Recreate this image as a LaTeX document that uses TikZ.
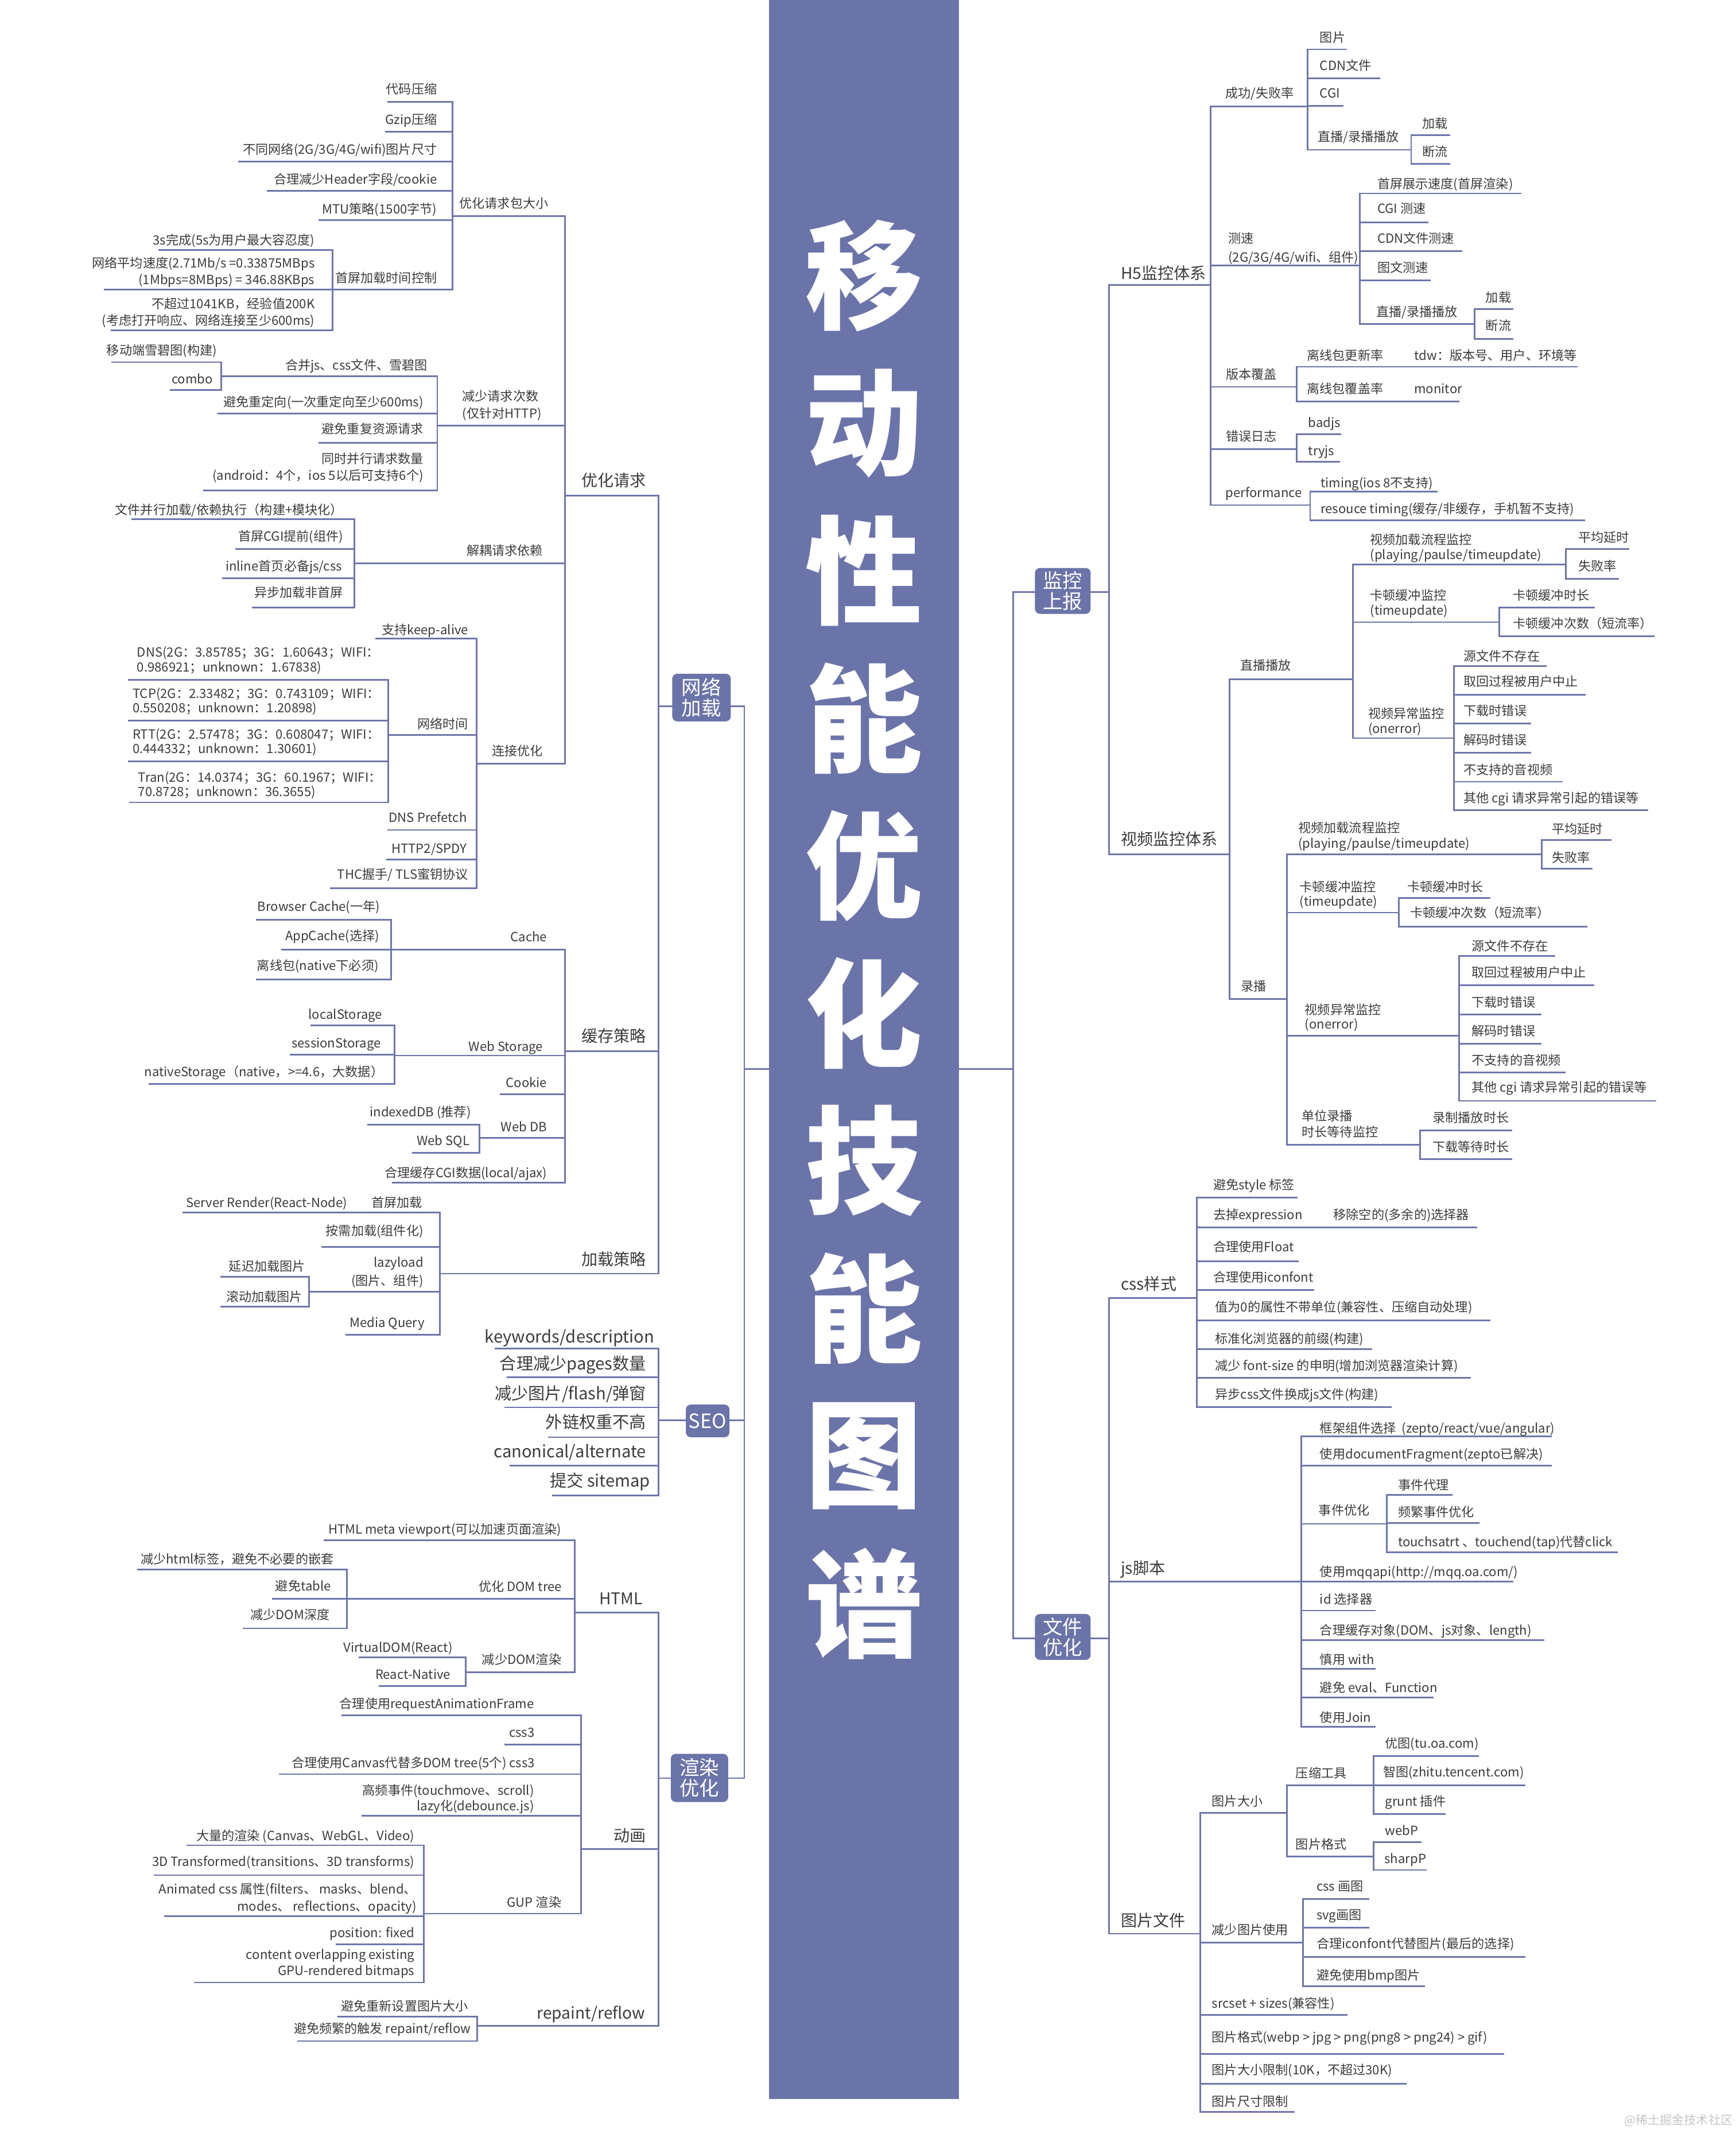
\documentclass[tikz,border=0pt]{standalone}
\usepackage{fontspec}
\setmainfont{Noto Sans CJK SC}
\definecolor{barC}{HTML}{6B74A9}
\definecolor{lineC}{HTML}{6E76AA}
\definecolor{txtC}{HTML}{3C3C3C}
\tikzset{
  ln/.style={draw=lineC, line width=0.8pt, line cap=rect},
  sm/.style={font=\fontsize{6.3}{8.1}\selectfont, text=txtC, inner sep=0pt, yshift=-0.170cm, execute at end node=\strut},
  md/.style={font=\fontsize{8}{10}\selectfont, text=txtC, inner sep=0pt, yshift=-0.213cm, execute at end node=\strut},
  lg/.style={font=\fontsize{8.3}{10.4}\selectfont, text=txtC, inner sep=0pt, yshift=-0.221cm, execute at end node=\strut},
  cat/.style={fill=barC, rounded corners=2.5pt, text=white, font=\fontsize{9.8}{10.2}\selectfont, align=center, inner sep=0pt},
  ttl/.style={text=white, font=\fontsize{58}{60}\selectfont\bfseries, inner sep=0pt}
}
% left node: name, style, xL, xR, y(line), text x (right edge), text y (centre of last line), text
\newcommand{\mmL}[8]{%
  \coordinate (#1-l) at (#3,#5);
  \coordinate (#1-r) at (#4,#5);
  \draw[ln] (#1-l) -- (#1-r);
  \node[anchor=south east, align=right, #2] (#1) at (#6,#7) {#8};
}
% right node: name, style, xL, xR, y(line), text x (left edge), text y, text
\newcommand{\mmR}[8]{%
  \coordinate (#1-l) at (#3,#5);
  \coordinate (#1-r) at (#4,#5);
  \draw[ln] (#1-l) -- (#1-r);
  \node[anchor=south west, align=left, #2] (#1) at (#6,#7) {#8};
}
\begin{document}
\begin{tikzpicture}[x=0.02366cm, y=-0.02366cm]
\useasboundingbox (0,0) rectangle (1278,1568);
\fill[white] (0,0) rectangle (1278,1568);

% central bar
\fill[barC] (566,0) rectangle (706,1545);
\foreach \c [count=\i from 0] in {移,动,性,能,优,化,技,能,图,谱}
  \node[ttl] (t\i) at (636,{203+\i*108.6}) {\c};

% ================= LEFT =================
\coordinate (barL) at (566,787);
\coordinate (LTm) at (548,787);
\coordinate (wljz-in) at (485,520);  \coordinate (wljz-out) at (548,520);
\coordinate (seo-in) at (485,1045.7); \coordinate (seo-out) at (548,1045.7);
\coordinate (xryh-in) at (485,1309); \coordinate (xryh-out) at (548,1309);
\draw[ln] (wljz-in) -- (wljz-out);
\draw[ln] (seo-in) -- (seo-out);
\draw[ln] (xryh-in) -- (xryh-out);
\draw[ln] (wljz-out) -- (xryh-out);
\draw[ln] (LTm) -- (barL);

% 网络加载
\mmL{yhqq}{md}{416}{485}{365}{476}{354}{优化请求}
\mmL{hccl}{md}{416}{485}{774}{476}{763}{缓存策略}
\mmL{jzcl}{md}{324}{485}{937.6}{476}{927}{加载策略}
\draw[ln] (yhqq-r) -- (jzcl-r);

% 优化请求
\mmL{bdx}{sm}{333}{416}{159}{404}{150}{优化请求包大小}
\mmL{jscs}{sm,align=left,font=\fontsize{6.3}{8.7}\selectfont}{322}{416}{313.4}{399}{305}{减少请求次数\\(仅针对HTTP)}
\mmL{jcyl}{sm}{261}{416}{414.7}{400}{405.7}{解耦请求依赖}
\mmL{ljyh}{sm}{351}{416}{562}{400}{553}{连接优化}
\draw[ln] (bdx-r) -- (ljyh-r);

\mmL{dmys}{sm}{286}{333}{75}{322}{66}{代码压缩}
\mmL{gzip}{sm}{284}{333}{97}{322}{88}{Gzip压缩}
\mmL{btwl}{sm}{176}{333}{119}{322}{110}{不同网络(2G/3G/4G/wifi)图片尺寸}
\mmL{header}{sm}{197}{333}{140.5}{322}{132}{合理减少Header字段/cookie}
\mmL{mtu}{sm}{235}{333}{162}{322}{154}{MTU策略(1500字节)}
\mmL{scjz}{sm}{245}{333}{213}{322}{205}{首屏加载时间控制}
\draw[ln] (dmys-r) -- (scjz-r);

\mmL{sss}{sm}{117}{245}{184}{232}{177}{3s完成(5s为用户最大容忍度)}
\mmL{pjsd}{sm}{77}{245}{213}{232}{206}{网络平均速度(2.71Mb/s =0.33875MBps\\(1Mbps=8MBps) = 346.88KBps}
\mmL{bcg}{sm}{82}{245}{243}{232}{236}{不超过1041KB，经验值200K\\(考虑打开响应、网络连接至少600ms)}
\draw[ln] (sss-r) -- (bcg-r);

\mmL{hbjs}{sm}{163}{322}{277}{315}{269}{合并js、css文件、雪碧图}
\mmL{cdx}{sm}{160.6}{322}{304.4}{312}{296}{避免重定向(一次重定向至少600ms)}
\mmL{cfzy}{sm}{235}{322}{326}{312}{316}{避免重复资源请求}
\mmL{bxqq}{sm}{150}{322}{361}{312}{350}{同时并行请求数量\\(android：4个，ios 5以后可支持6个)}
\draw[ln] (hbjs-r) -- (bxqq-r);

\mmL{xbt}{sm}{82.7}{163}{266.6}{160}{258}{移动端雪碧图(构建)}
\mmL{combo}{sm}{125.6}{163}{287}{157}{279}{combo}
\draw[ln] (xbt-r) -- (combo-r);

\mmL{wjbx}{sm}{97.5}{261}{382}{253}{375.5}{文件并行加载/依赖执行（构建+模块化）}
\mmL{cgi}{sm}{173.7}{261}{404}{253}{395}{首屏CGI提前(组件)}
\mmL{inline}{sm}{164}{261}{425.7}{252}{416.8}{inline首页必备js/css}
\mmL{ybjz}{sm}{186}{261}{447.4}{253}{436.5}{异步加载非首屏}
\draw[ln] (wjbx-r) -- (ybjz-r);

\mmL{keep}{sm}{277}{351}{470}{345}{464}{支持keep-alive}
\mmL{wlsj}{sm}{286}{351}{541}{345}{533}{网络时间}
\mmL{dnsp}{sm}{286}{351}{611}{344}{602}{DNS Prefetch}
\mmL{http}{sm}{285}{351}{632.7}{344}{624.7}{HTTP2/SPDY}
\mmL{thc}{sm}{243.5}{351}{654}{345}{644}{THC握手/ TLS蜜钥协议}
\draw[ln] (keep-r) -- (thc-r);

\mmL{dns}{sm,anchor=south west,align=left,font=\fontsize{6.3}{7.2}\selectfont}{94.8}{286}{500.6}{100.6}{490.7}{DNS(2G：3.85785；3G：1.60643；WIFI：\\0.986921；unknown：1.67838)}
\mmL{tcp}{sm,anchor=south west,align=left,font=\fontsize{6.3}{7.2}\selectfont}{94.8}{286}{530.4}{97.4}{521}{TCP(2G：2.33482；3G：0.743109；WIFI：\\0.550208；unknown：1.20898)}
\mmL{rtt}{sm,anchor=south west,align=left,font=\fontsize{6.3}{7.2}\selectfont}{94.8}{286}{560.5}{97.4}{551}{RTT(2G：2.57478；3G：0.608047；WIFI：\\0.444332；unknown：1.30601)}
\mmL{tran}{sm,anchor=south west,align=left,font=\fontsize{6.3}{7.2}\selectfont}{95.7}{286}{590.7}{101.5}{582.6}{Tran(2G：14.0374；3G：60.1967；WIFI：\\70.8728；unknown：36.3655)}
\draw[ln] (dns-r) -- (tran-r);

% 缓存策略
\mmL{cache}{sm}{288}{416}{699}{403}{689.8}{Cache}
\mmL{wst}{sm}{290.6}{416}{777}{400}{770.6}{Web Storage}
\mmL{cookie}{sm}{368.6}{416}{805.6}{403}{797}{Cookie}
\mmL{webdb}{sm}{353}{416}{837.8}{403}{829.7}{Web DB}
\mmL{cgisj}{sm}{289}{416}{870.5}{403}{863.5}{合理缓存CGI数据(local/ajax)}
\draw[ln] (cache-r) -- (cgisj-r);

\mmL{bc}{sm}{189}{288}{677}{280}{667.5}{Browser Cache(一年)}
\mmL{appc}{sm}{207.5}{288}{699}{279.5}{689}{AppCache(选择)}
\mmL{lxb}{sm}{189}{288}{721}{279}{711}{离线包(native下必须)}
\draw[ln] (bc-r) -- (lxb-r);

\mmL{ls}{sm}{229}{290.6}{755}{281.7}{746.7}{localStorage}
\mmL{ss}{sm}{214}{290.6}{776.5}{280.6}{768}{sessionStorage}
\mmL{ns}{sm}{110}{290.6}{798}{282.6}{789}{nativeStorage（native，>=4.6，大数据）}
\draw[ln] (ls-r) -- (ns-r);

\mmL{idb}{sm}{271}{353}{827.8}{347}{818.7}{indexedDB (推荐)}
\mmL{wsql}{sm}{304}{353}{848.7}{346}{839.8}{Web SQL}
\draw[ln] (idb-r) -- (wsql-r);

% 加载策略
\mmL{scjz2}{sm}{262}{324}{892.5}{311.3}{885.7}{首屏加载}
\mmL{ssr}{sm}{135}{262}{892.5}{256}{885.7}{Server Render(React-Node)}
\mmL{axjz}{sm}{237}{324}{918}{312}{906}{按需加载(组件化)}
\mmL{lazy}{sm,font=\fontsize{6.3}{9.1}\selectfont}{227.5}{324}{951}{312}{943.6}{lazyload\\(图片、组件)}
\mmL{mq}{sm}{255}{324}{982.7}{312.8}{974}{Media Query}
\draw[ln] (scjz2-r) -- (mq-r);
\mmL{ycjz}{sm}{163}{227.5}{940}{225}{932.6}{延迟加载图片}
\mmL{gdjz}{sm}{163}{227.5}{962}{223}{955}{滚动加载图片}
\draw[ln] (ycjz-r) -- (gdjz-r);

% SEO
\mmL{kw}{lg}{364.7}{485}{992.6}{482}{984}{keywords/description}
\mmL{pages}{lg}{373.6}{485}{1014}{476}{1004}{合理减少pages数量}
\mmL{flash}{lg}{372}{485}{1036}{476}{1026}{减少图片/flash/弹窗}
\mmL{wlqz}{lg}{404}{485}{1058}{476}{1047}{外链权重不高}
\mmL{canon}{lg}{375.7}{485}{1079}{476}{1068.5}{canonical/alternate}
\mmL{sitemap}{lg}{407}{485}{1101}{479}{1090}{提交 sitemap}
\draw[ln] (kw-r) -- (sitemap-r);

% 渲染优化
\mmL{html}{md}{423}{485}{1187}{473.4}{1177}{HTML}
\mmL{anim}{md}{427.8}{485}{1361}{476}{1351.6}{动画}
\mmL{rr}{md}{351.4}{485}{1491.4}{475.3}{1482}{repaint/reflow}
\draw[ln] (html-r) -- (rr-r);

\mmL{meta}{sm}{238.7}{423}{1133.7}{413.6}{1126}{HTML meta viewport(可以加速页面渲染)}
\mmL{domt}{sm}{255.4}{423}{1177}{414}{1168}{优化 DOM tree}
\mmL{domr}{sm}{343}{423}{1231}{413.6}{1222}{减少DOM渲染}
\draw[ln] (meta-r) -- (domr-r);

\mmL{tag}{sm}{101.7}{255.4}{1155.4}{246}{1148}{减少html标签，避免不必要的嵌套}
\mmL{table}{sm}{200.8}{255.4}{1177}{244}{1167.6}{避免table}
\mmL{depth}{sm}{179.4}{255.4}{1198.7}{243}{1189}{减少DOM深度}
\draw[ln] (tag-r) -- (depth-r);

\mmL{vdom}{sm}{264.5}{343}{1220}{333.5}{1213}{VirtualDOM(React)}
\mmL{rn}{sm}{279.6}{343}{1241}{332}{1232.8}{React-Native}
\draw[ln] (vdom-r) -- (rn-r);

\mmL{raf}{sm}{252}{427.8}{1262.7}{393.5}{1254.5}{合理使用requestAnimationFrame}
\mmL{cssthree}{sm}{372}{427.8}{1284.4}{393.8}{1275.6}{css3}
\mmL{canvas}{sm}{206}{427.8}{1306}{394}{1298}{合理使用Canvas代替多DOM tree(5个) css3}
\mmL{gp}{sm,font=\fontsize{6.3}{7.8}\selectfont}{266.8}{427.8}{1336.6}{393.5}{1329.6}{高频事件(touchmove、scroll)\\lazy化(debounce.js)}
\mmL{gup}{sm}{312}{427.8}{1408.7}{413.6}{1400.7}{GUP 渲染}
\draw[ln] (raf-r) -- (gup-r);

\mmL{dlxr}{sm}{138}{312}{1358.4}{305.4}{1351.6}{大量的渲染 (Canvas、WebGL、Video)}
\mmL{tdd}{sm}{114}{312}{1380.4}{305.4}{1370.7}{3D Transformed(transitions、3D transforms)}
\mmL{acss}{sm,font=\fontsize{6.3}{8.6}\selectfont}{121.6}{312}{1410.6}{307}{1403.8}{Animated css 属性(filters、 masks、blend、\\modes、 reflections、opacity)}
\mmL{pfix}{sm}{247.6}{312}{1431.4}{305.4}{1423}{position: fixed}
\mmL{colap}{sm,font=\fontsize{6.3}{7.9}\selectfont}{143.3}{312}{1459.4}{305.4}{1450.6}{content overlapping existing\\GPU-rendered bitmaps}
\draw[ln] (dlxr-r) -- (colap-r);

\mmL{tpdx}{sm}{249}{351.4}{1484.6}{345}{1477}{避免重新设置图片大小}
\mmL{pfcf}{sm}{219.4}{351.4}{1502.5}{347}{1493.6}{避免频繁的触发 repaint/reflow}
\draw[ln] (tpdx-r) -- (pfcf-r);

\node[cat, minimum width=1.02cm, minimum height=0.83cm] (wljz) at (516.5,513.5) {网络\\加载};
\node[cat, minimum width=0.76cm, minimum height=0.57cm] (seo) at (521,1046) {SEO};
\node[cat, minimum width=1.0cm, minimum height=0.84cm] (xryh) at (515,1308.8) {渲染\\优化};

% ================= RIGHT =================
\coordinate (barR) at (706,787);
\coordinate (RTm) at (746,787);
\coordinate (jksb-in) at (746,436); \coordinate (jksb-out) at (816.4,436);
\coordinate (wjyh-in) at (746,1206); \coordinate (wjyh-out) at (816.4,1206);
\draw[ln] (jksb-in) -- (jksb-out);
\draw[ln] (wjyh-in) -- (wjyh-out);
\draw[ln] (jksb-in) -- (wjyh-in);
\draw[ln] (barR) -- (RTm);

% 监控上报
\mmR{hfive}{md}{816.4}{891.4}{209.7}{825}{201.4}{H5监控体系}
\mmR{spjk}{md}{816.4}{905.3}{629}{825}{618}{视频监控体系}
\draw[ln] (hfive-l) -- (spjk-l);

\mmR{cgl}{sm}{891.4}{962.6}{78.5}{902}{68.8}{成功/失败率}
\mmR{cs}{sm,font=\fontsize{6.3}{9.2}\selectfont}{891.4}{1001}{195.5}{904}{190}{测速\\(2G/3G/4G/wifi、组件)}
\mmR{bbfg}{sm}{891.4}{954.7}{284.8}{902.4}{275.6}{版本覆盖}
\mmR{cwrz}{sm}{891.4}{954.7}{330.5}{902.4}{321.4}{错误日志}
\mmR{perf}{sm}{891.4}{964.6}{371.8}{902}{363}{performance}
\draw[ln] (cgl-l) -- (perf-l);

\mmR{tp}{sm}{962.6}{991}{36.3}{971.5}{27.6}{图片}
\mmR{cdn}{sm}{962.6}{1015.5}{57.7}{971.5}{48.5}{CDN文件}
\mmR{cgib}{sm}{962.6}{988.5}{78}{971.5}{68.8}{CGI}
\mmR{zba}{sm}{962.6}{1039}{110.3}{970}{101}{直播/录播播放}
\draw[ln] (tp-l) -- (zba-l);
\mmR{jza}{sm}{1039}{1067}{99.6}{1047}{91}{加载}
\mmR{dla}{sm}{1039}{1067}{120.7}{1047}{112}{断流}
\draw[ln] (jza-l) -- (dla-l);

\mmR{scsd}{sm}{1001}{1119.6}{142.4}{1013.8}{135.7}{首屏展示速度(首屏渲染)}
\mmR{cgics}{sm}{1001}{1051}{163.8}{1013.8}{153.7}{CGI 测速}
\mmR{cdncs}{sm}{1001}{1076}{185}{1013.8}{175.5}{CDN文件测速}
\mmR{twcs}{sm}{1001}{1052.6}{206.3}{1013.8}{197}{图文测速}
\mmR{zbb}{sm}{1001}{1085.6}{238.5}{1013}{229.8}{直播/录播播放}
\draw[ln] (scsd-l) -- (zbb-l);
\mmR{jzb}{sm}{1085.6}{1113.6}{227.6}{1093.6}{219}{加载}
\mmR{dlb}{sm}{1085.6}{1113.6}{249.4}{1093.6}{239.8}{断流}
\draw[ln] (jzb-l) -- (dlb-l);

\mmR{gxl}{sm}{954.7}{1034}{270}{962}{262}{离线包更新率}
\mmR{tdw}{sm}{1034}{1161}{270}{1041}{262}{tdw：版本号、用户、环境等}
\mmR{fgl}{sm}{954.7}{1034}{295.5}{962}{286.4}{离线包覆盖率}
\mmR{mon}{sm}{1034}{1073.8}{295.5}{1041}{286.4}{monitor}
\draw[ln] (gxl-l) -- (fgl-l);

\mmR{badjs}{sm}{954.7}{987}{319.8}{963}{311.5}{badjs}
\mmR{tryjs}{sm}{954.7}{986}{340}{963}{332}{tryjs}
\draw[ln] (badjs-l) -- (tryjs-l);

\mmR{timing}{sm}{964.6}{1058}{362}{972}{355.8}{timing(ios 8不支持)}
\mmR{rtim}{sm}{964.6}{1166.5}{383}{972}{374.5}{resouce timing(缓存/非缓存，手机暂不支持)}
\draw[ln] (timing-l) -- (rtim-l);

% 视频监控体系
\mmR{zbbf}{sm}{905.3}{996}{500}{912.8}{490}{直播播放}
\mmR{lubo}{sm}{905.3}{947.4}{735.4}{913.4}{726.3}{录播}
\draw[ln] (zbbf-l) -- (lubo-l);

\mmR{jzlc}{sm,font=\fontsize{6.3}{7.4}\selectfont}{996}{1153}{415.4}{1008.5}{408}{视频加载流程监控\\(playing/paulse/timeupdate)}
\mmR{kdjk}{sm,font=\fontsize{6.3}{7.3}\selectfont}{996}{1104}{458}{1008.5}{449}{卡顿缓冲监控\\(timeupdate)}
\mmR{ycjk}{sm,font=\fontsize{6.3}{7.4}\selectfont}{996}{1070.5}{543.4}{1007}{536}{视频异常监控\\(onerror)}
\draw[ln] (jzlc-l) -- (ycjk-l);
\mmR{pjys}{sm}{1153}{1198.8}{404.3}{1161.8}{395.6}{平均延时}
\mmR{sbl}{sm}{1153}{1191.5}{426}{1161.8}{417}{失败率}
\draw[ln] (pjys-l) -- (sbl-l);
\mmR{kdsc}{sm}{1104}{1173.7}{447.4}{1113.7}{438.3}{卡顿缓冲时长}
\mmR{kdcs}{sm}{1104}{1217.5}{468.5}{1113.7}{459}{卡顿缓冲次数（短流率）}
\draw[ln] (kdsc-l) -- (kdcs-l);
\mmR{ea}{sm}{1070.5}{1138}{490.3}{1077.3}{483.4}{源文件不存在}
\mmR{eb}{sm}{1070.5}{1167}{511.3}{1077.3}{501.7}{取回过程被用户中止}
\mmR{ec}{sm}{1070.5}{1126.8}{532.5}{1077.3}{523.5}{下载时错误}
\mmR{ed}{sm}{1070.5}{1126.8}{554}{1077.3}{544.8}{解码时错误}
\mmR{ee}{sm}{1070.5}{1150}{575.5}{1077.3}{567}{不支持的音视频}
\mmR{ef}{sm}{1070.5}{1212.8}{596.4}{1077.3}{587.6}{其他 cgi 请求异常引起的错误等}
\draw[ln] (ea-l) -- (ef-l);

\mmR{jzlcb}{sm,font=\fontsize{6.3}{7.6}\selectfont}{947.4}{1135}{629}{955.6}{620.6}{视频加载流程监控\\(playing/paulse/timeupdate)}
\mmR{kdjkb}{sm,font=\fontsize{6.3}{7.0}\selectfont}{947.4}{1030}{671.8}{956.6}{663}{卡顿缓冲监控\\(timeupdate)}
\mmR{ycjkb}{sm,font=\fontsize{6.3}{7.2}\selectfont}{947.4}{1074.3}{762.5}{960.4}{753.8}{视频异常监控\\(onerror)}
\mmR{dwlb}{sm,font=\fontsize{6.3}{8.0}\selectfont}{947.4}{1045.5}{842.6}{958.2}{833.5}{单位录播\\时长等待监控}
\draw[ln] (jzlcb-l) -- (dwlb-l);
\mmR{pjysb}{sm}{1135}{1186}{618.3}{1142.4}{610.6}{平均延时}
\mmR{sblb}{sm}{1135}{1172}{639.4}{1142.4}{631.6}{失败率}
\draw[ln] (pjysb-l) -- (sblb-l);
\mmR{kdscb}{sm}{1030}{1096.6}{661}{1035.8}{653}{卡顿缓冲时长}
\mmR{kdcsb}{sm}{1030}{1168}{682}{1038}{672}{卡顿缓冲次数（短流率）}
\draw[ln] (kdscb-l) -- (kdcsb-l);
\mmR{fa}{sm}{1074.3}{1144.6}{703.7}{1083.3}{696.5}{源文件不存在}
\mmR{fb}{sm}{1074.3}{1173}{725.3}{1083.3}{716}{取回过程被用户中止}
\mmR{fc}{sm}{1074.3}{1134.2}{746.8}{1083.3}{738}{下载时错误}
\mmR{fd}{sm}{1074.3}{1134.2}{768.2}{1083.3}{759}{解码时错误}
\mmR{fe}{sm}{1074.3}{1152}{789.4}{1083.3}{780.6}{不支持的音视频}
\mmR{ff}{sm}{1074.3}{1219}{810.4}{1083.3}{800.5}{其他 cgi 请求异常引起的错误等}
\draw[ln] (fa-l) -- (ff-l);
\mmR{lzbf}{sm}{1045.5}{1112.8}{832}{1054.5}{823}{录制播放时长}
\mmR{xzdd}{sm}{1045.5}{1112.8}{853.3}{1054.5}{844.5}{下载等待时长}
\draw[ln] (lzbf-l) -- (xzdd-l);

% 文件优化
\mmR{cssys}{md}{816.4}{881}{955.6}{825}{945.5}{css样式}
\mmR{jsjb}{md}{816.4}{958.2}{1164.3}{825}{1154.6}{js脚本}
\mmR{tpwj}{md}{816.4}{883.7}{1423.5}{825}{1413.8}{图片文件}
\draw[ln] (cssys-l) -- (tpwj-l);

\mmR{ca}{sm}{881}{954.8}{881.7}{893}{872.4}{避免style 标签}
\mmR{cb}{sm}{881}{975}{903.5}{893}{894.5}{去掉expression}
\mmR{cbb}{sm}{975}{1087}{903.5}{981.5}{894.5}{移除空的(多余的)选择器}
\mmR{cc}{sm}{881}{955.6}{928.5}{893}{918}{合理使用Float}
\mmR{cd}{sm}{881}{967}{949.6}{893}{940.6}{合理使用iconfont}
\mmR{ce}{sm}{881}{1096.6}{972.1}{894.4}{962.2}{值为0的属性不带单位(兼容性、压缩自动处理)}
\mmR{cf}{sm}{881}{1009.8}{993.2}{894.4}{985.5}{标准化浏览器的前缀(构建)}
\mmR{cg}{sm}{881}{1082.3}{1014.4}{894.4}{1005.4}{减少 font-size 的申明(增加浏览器渲染计算)}
\mmR{ch}{sm}{881}{1024}{1035.7}{894.4}{1026.5}{异步css文件换成js文件(构建)}
\draw[ln] (ca-l) -- (ch-l);

\mmR{ja}{sm}{958.2}{1142}{1057.5}{971.5}{1051.5}{框架组件选择 \ (zepto/react/vue/angular)}
\mmR{jb}{sm}{958.2}{1142}{1079}{971.5}{1070.4}{使用documentFragment(zepto已解决)}
\mmR{jc}{sm}{958.2}{1021}{1121.8}{970.6}{1112}{事件优化}
\mmR{jd}{sm}{958.2}{1113.7}{1164.3}{971.5}{1157}{使用mqqapi(http://mqq.oa.com/)}
\mmR{je}{sm}{958.2}{1012}{1185.6}{971.5}{1177.5}{id 选择器}
\mmR{jf}{sm}{958.2}{1136.6}{1207.3}{971.5}{1200.2}{合理缓存对象(DOM、js对象、length)}
\mmR{jg}{sm}{958.2}{1012}{1228.6}{971.5}{1222}{慎用 with}
\mmR{jh}{sm}{958.2}{1055}{1249.7}{971.5}{1242.7}{避免 eval、Function}
\mmR{ji}{sm}{958.2}{1012}{1271.2}{971.5}{1264.4}{使用Join}
\draw[ln] (ja-l) -- (ji-l);
\mmR{eva}{sm}{1021}{1069}{1100.5}{1029}{1093.4}{事件代理}
\mmR{evb}{sm}{1021}{1088.5}{1121.3}{1029}{1113.3}{频繁事件优化}
\mmR{evc}{sm}{1021}{1190.6}{1142.8}{1029}{1135.2}{touchsatrt 、touchend(tap)代替click}
\draw[ln] (eva-l) -- (evc-l);

\mmR{pa}{sm}{883.7}{947.4}{1334.6}{892}{1326.3}{图片大小}
\mmR{pb}{sm}{883.7}{959.3}{1430}{892}{1421}{减少图片使用}
\mmR{pc}{sm}{883.7}{991.3}{1483.3}{892}{1475}{srcset + sizes(兼容性)}
\mmR{pd}{sm}{883.7}{1107}{1512}{892}{1500}{图片格式(webp > jpg > png(png8 > png24) > gif)}
\mmR{pe}{sm}{883.7}{1035}{1534}{892}{1524}{图片大小限制(10K，不超过30K)}
\mmR{pf}{sm}{883.7}{952.6}{1554.8}{892}{1547}{图片尺寸限制}
\draw[ln] (pa-l) -- (pf-l);
\mmR{ysgj}{sm}{947.4}{1011.2}{1314.3}{953.7}{1305.5}{压缩工具}
\mmR{tpgs}{sm}{947.4}{1011.2}{1366.7}{953.7}{1358}{图片格式}
\draw[ln] (ysgj-l) -- (tpgs-l);
\mmR{yt}{sm}{1011.2}{1088.3}{1292.8}{1019.5}{1283.6}{优图(tu.oa.com)}
\mmR{zt}{sm}{1011.2}{1122.5}{1314.3}{1018}{1304.7}{智图(zhitu.tencent.com)}
\mmR{gr}{sm}{1011.2}{1063.8}{1335.5}{1019.5}{1326.3}{grunt 插件}
\draw[ln] (yt-l) -- (gr-l);
\mmR{wp}{sm}{1011.2}{1046}{1356.2}{1019.5}{1347.7}{webP}
\mmR{shp}{sm}{1011.2}{1050}{1376.6}{1019}{1368.3}{sharpP}
\draw[ln] (wp-l) -- (shp-l);
\mmR{ra}{sm}{959.3}{1007.6}{1398}{969}{1388.6}{css 画图}
\mmR{rb}{sm}{959.3}{1007.6}{1419.2}{969}{1410}{svg画图}
\mmR{rc}{sm}{959.3}{1122.5}{1440.6}{969}{1431}{合理iconfont代替图片(最后的选择)}
\mmR{rd}{sm}{959.3}{1048.6}{1462.3}{969}{1454.2}{避免使用bmp图片}
\draw[ln] (ra-l) -- (rd-l);

\node[cat, minimum width=0.97cm, minimum height=0.80cm] (jksb) at (782.5,435) {监控\\上报};
\node[cat, minimum width=0.97cm, minimum height=0.80cm] (wjyh) at (782.5,1205) {文件\\优化};

% watermark
\node[anchor=east, text=gray!45, font=\fontsize{6}{7}\selectfont, inner sep=0pt] (wm) at (1276,1561) {@稀土掘金技术社区};
\end{tikzpicture}
\end{document}
